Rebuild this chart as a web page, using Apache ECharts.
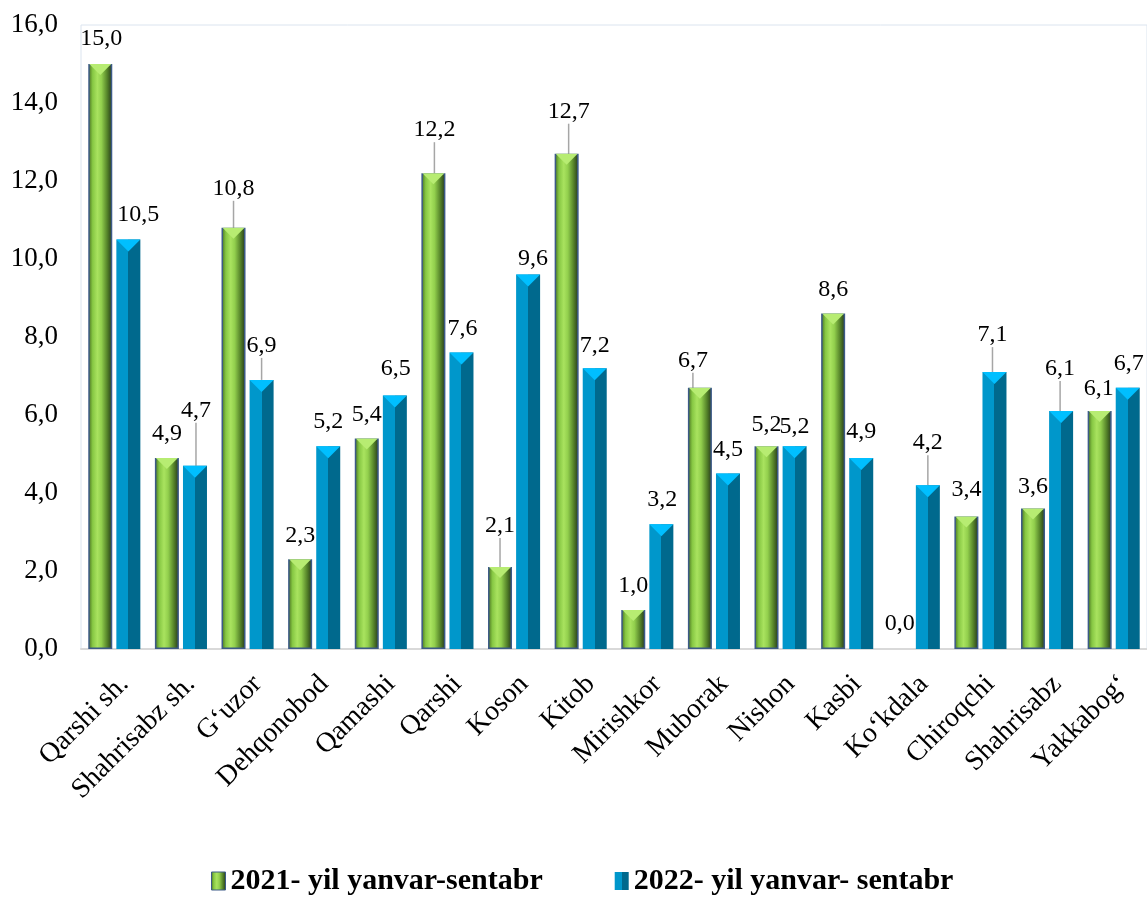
<!DOCTYPE html>
<html>
<head>
<meta charset="utf-8">
<script src="https://cdn.jsdelivr.net/npm/echarts@6/dist/echarts.min.js"></script>
<style>
html,body{margin:0;padding:0;background:#fff;}
#chart{width:1147px;height:899px;}
</style>
</head>
<body>
<div id="chart"></div>
<script>
// ---- data ----
var categories = ["Qarshi sh.", "Shahrisabz sh.", "G\u2018uzor", "Dehqonobod", "Qamashi", "Qarshi", "Koson", "Kitob", "Mirishkor", "Muborak", "Nishon", "Kasbi", "Ko\u2018kdala", "Chiroqchi", "Shahrisabz", "Yakkabog\u2018"];
var values2021 = [15.0, 4.9, 10.8, 2.3, 5.4, 12.2, 2.1, 12.7, 1.0, 6.7, 5.2, 8.6, 0.0, 3.4, 3.6, 6.1];
var values2022 = [10.5, 4.7, 6.9, 5.2, 6.5, 7.6, 9.6, 7.2, 3.2, 4.5, 5.2, 4.9, 4.2, 7.1, 6.1, 6.7];
var seriesNames = ["2021- yil yanvar-sentabr", "2022- yil yanvar- sentabr"];
var yTicks = [0, 2, 4, 6, 8, 10, 12, 14, 16];

// ---- label layout tweaks (offsets in px, separate from data) ----
var labelShift2021 = [[1,-1],[0,0],[0,-15],[0,0],[0,0],[1,-19],[0,-17],[2,-18],[0,0],[-7,-3],[0,3],[0,0],[0,-1],[0,-3],[0,2],[-1,2]];
var labelShift2022 = [[10,-1],[1,-31],[0,-10],[0,0],[1,-3],[1,0],[5,8],[0,2],[1,0],[0,0],[0,5],[0,-2],[0,-18],[-2,-13],[-1,-18],[1,0]];
var leader2021 = [0,0,1,0,0,1,1,1,0,1,0,0,0,0,0,0];
var leader2022 = [0,1,1,0,0,0,0,0,0,0,0,0,1,1,1,0];

var FONT = "'Liberation Serif','Times New Roman',serif";
function fmt(v){ return Number(v).toFixed(1).replace('.', ','); }

var greenFill = new echarts.graphic.LinearGradient(0,0,1,0,[
  {offset:0, color:'#44691f'},
  {offset:0.18, color:'#86c743'},
  {offset:0.38, color:'#a9e35f'},
  {offset:0.55, color:'#92cf4d'},
  {offset:0.8, color:'#527f28'},
  {offset:1, color:'#24351b'}
]);
var blueFill = new echarts.graphic.LinearGradient(0,0,1,0,[
  {offset:0, color:'#0097cb'},
  {offset:0.5, color:'#0097cb'},
  {offset:0.5, color:'#00698d'},
  {offset:1, color:'#00698d'}
]);

function buildData(vals, leaders){
  return vals.map(function(v,i){
    var d = {value: v, labelLine: {show: !!leaders[i]}};
    if (v === 0) d.itemStyle = {borderWidth: 0};
    return d;
  });
}
function tri(vals){ return vals.map(function(v){ return v > 0 ? v : null; }); }

var labelCommon = {
  show: true, position: 'top', distance: 12,
  fontFamily: FONT, fontSize: 24, color: '#000',
  formatter: function(p){ return fmt(p.value); }
};
var lineCommon = {show:false, lineStyle:{color:'#a6a6a6', width:1.5}};

var chart = echarts.init(document.getElementById('chart'), null, {renderer:'canvas'});
chart.setOption({
  animation: false,
  backgroundColor: '#fff',
  grid: {left: 81, top: 25, width: 1074, bottom: 250, show: true, borderColor: '#dbe4ef', borderWidth: 1, containLabel: false},
  legend: {
    data: [
      {name: seriesNames[0], itemStyle: {color: greenFill, borderColor:'#3c5a88', borderWidth:1}},
      {name: seriesNames[1], itemStyle: {color: blueFill}}
    ],
    top: 861, left: 206, icon: 'rect', itemWidth: 14, itemHeight: 18, itemGap: 72, itemTextGap: 3,
    textStyle: {fontFamily: FONT, fontSize: 30, fontWeight: 'bold', color: '#000'}
  },
  xAxis: {
    type: 'category', data: categories,
    axisLine: {show: true, lineStyle: {color: '#d9d9d9', width: 2}},
    axisTick: {show: false},
    axisLabel: {interval: 0, rotate: 45, margin: 21, verticalAlign: 'top', fontFamily: FONT, fontSize: 28, color: '#000'}
  },
  yAxis: {
    type: 'value', min: yTicks[0], max: yTicks[yTicks.length-1], interval: yTicks[1]-yTicks[0],
    axisLine: {show: false}, axisTick: {show: false}, splitLine: {show: false},
    axisLabel: {margin: 23, fontFamily: FONT, fontSize: 27, color: '#000', formatter: function(v){ return fmt(v); }}
  },
  series: [
    {
      name: seriesNames[0], type: 'bar', barWidth: 24, barGap: '17%',
      data: buildData(values2021, leader2021),
      itemStyle: {color: greenFill, borderColor: '#3c5a88', borderWidth: 1.5},
      label: labelCommon, labelLine: lineCommon,
      labelLayout: function(p){ var o = labelShift2021[p.dataIndex]; return {dx:o[0], dy:o[1]}; },
      z: 2
    },
    {
      name: seriesNames[1], type: 'bar', barWidth: 24, barGap: '17%',
      data: buildData(values2022, leader2022),
      itemStyle: {color: blueFill},
      label: labelCommon, labelLine: lineCommon,
      labelLayout: function(p){ var o = labelShift2022[p.dataIndex]; return {dx:o[0], dy:o[1]}; },
      z: 2
    },
    {
      name: 'tri2021', type: 'pictorialBar', barWidth: 24, barGap: '17%',
      symbol: 'path://M0,0 L20,0 L10,9 Z', symbolPosition: 'end', symbolSize: [22, 11], symbolOffset: [0, 0],
      data: tri(values2021), itemStyle: {color: '#b7ec72'}, silent: true, z: 3, legendHoverLink: false
    },
    {
      name: 'tri2022', type: 'pictorialBar', barWidth: 24, barGap: '17%',
      symbol: 'path://M0,0 L20,0 L10,9 Z', symbolPosition: 'end', symbolSize: [24, 12], symbolOffset: [0, 0],
      data: tri(values2022), itemStyle: {color: '#00bfff'}, silent: true, z: 3, legendHoverLink: false
    }
  ]
});
</script>
</body>
</html>
